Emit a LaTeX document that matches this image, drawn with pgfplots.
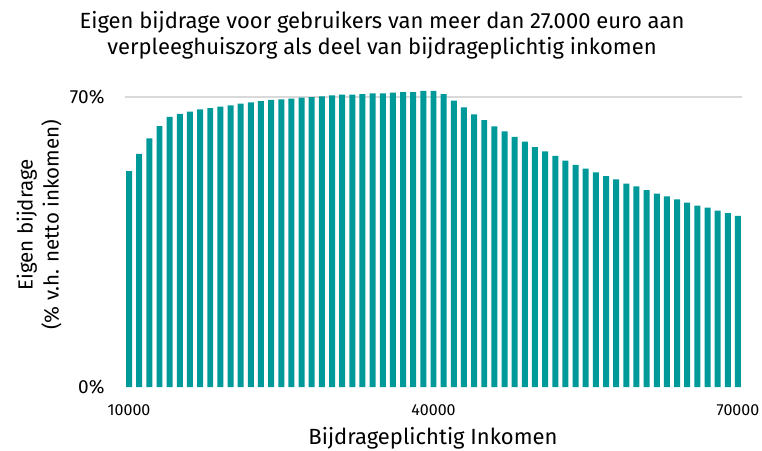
\documentclass[border=0pt]{standalone}
\usepackage{fontspec}
\setmainfont{Fira Sans}
\usepackage{pgfplots}
\pgfplotsset{compat=1.18}
\definecolor{teal1}{RGB}{0,153,153}
\begin{document}
\begin{tikzpicture}[x=1pt,y=1pt]
\path[use as bounding box] (0,0) rectangle (762,450);
\begin{axis}[
  at={(125pt,63pt)}, anchor=south west,
  scale only axis, width=617pt, height=290pt,
  xmin=9600, xmax=70400, ymin=0, ymax=70,
  clip=false,
  axis line style={draw=none},
  major tick length=0pt,
  ybar, bar width=590,
  xtick=\empty, ytick=\empty,
  extra y ticks={70}, extra y tick labels={},
  extra y tick style={grid=major},
  major grid style={black!15, line width=1.2pt},
]
\addplot[fill=teal1, draw=none] coordinates {
(10000,52.1) (11000,56.3) (12000,60.0) (13000,63.0) (14000,65.2) (15000,65.9)
(16000,66.5) (17000,67.0) (18000,67.3) (19000,67.7) (20000,68.0) (21000,68.4)
(22000,68.7) (23000,69.0) (24000,69.3) (25000,69.4) (26000,69.6) (27000,69.85)
(28000,70.0) (29000,70.15) (30000,70.4) (31000,70.6) (32000,70.6) (33000,70.7)
(34000,70.9) (35000,70.9) (36000,71.05) (37000,71.2) (38000,71.2) (39000,71.45)
(40000,71.45) (41000,70.7) (42000,69.1) (43000,67.5) (44000,65.8) (45000,64.4)
(46000,62.9) (47000,61.7) (48000,60.4) (49000,59.2) (50000,57.9) (51000,56.9)
(52000,55.8) (53000,54.65) (54000,53.6) (55000,52.7) (56000,51.8) (57000,50.9)
(58000,50.1) (59000,49.1) (60000,48.4) (61000,47.5) (62000,46.7) (63000,46.0)
(64000,45.3) (65000,44.5) (66000,43.8) (67000,43.3) (68000,42.6) (69000,42.0)
(70000,41.3)
};
\node[anchor=east, font=\fontsize{19}{22}\selectfont] at ([xshift=-17pt]axis cs:9600,70) {70\%};
\node[anchor=east, font=\fontsize{19}{22}\selectfont] at ([xshift=-17pt]axis cs:9600,0) {0\%};
\node[font=\fontsize{16}{18}\selectfont] at (axis cs:10000,-5.5) {10000};
\node[font=\fontsize{16}{18}\selectfont] at (axis cs:40000,-5.5) {40000};
\node[font=\fontsize{16}{18}\selectfont] at (axis cs:70000,-5.5) {70000};
\end{axis}
\node[font=\fontsize{22}{26}\selectfont, align=center] at (382,415) {Eigen bijdrage voor gebruikers van meer dan 27.000 euro aan\\verpleeghuiszorg als deel van bijdrageplichtig inkomen};
\node[font=\fontsize{22}{26}\selectfont] at (433,12) {Bijdrageplichtig Inkomen};
\node[font=\fontsize{20.5}{26}\selectfont, align=center, rotate=90] at (39,225) {Eigen bijdrage\\(\% v.h. netto inkomen)};
\end{tikzpicture}
\end{document}
